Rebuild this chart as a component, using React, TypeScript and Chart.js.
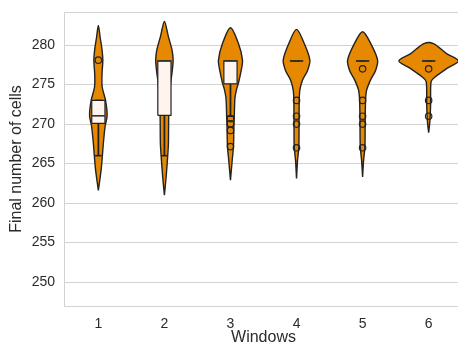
import { useEffect, useRef } from "react";
import { Chart, registerables } from "chart.js";

Chart.register(...registerables);

// ---------- data ----------
const windowLabels = ["1", "2", "3", "4", "5", "6"];
const yTickValues = [250, 255, 260, 265, 270, 275, 280];

// violin outlines: value levels (bottom -> top) and half-widths in category units
const violinLevels1 = [261.6, 264.2, 266.0, 267.6, 269.7, 271.1, 273.0, 274.7, 276.3, 278.1, 279.6, 281.0, 282.5];
const violinHalf1 = [0, 0.042, 0.061, 0.076, 0.102, 0.133, 0.109, 0.058, 0.055, 0.068, 0.053, 0.027, 0];
const violinLevels2 = [261.0, 263.3, 266.0, 267.6, 270.9, 273.0, 275.0, 276.5, 278.1, 279.4, 281.05, 283.0];
const violinHalf2 = [0, 0.026, 0.05, 0.061, 0.065, 0.076, 0.091, 0.115, 0.132, 0.115, 0.061, 0];
const violinLevels3 = [262.9, 265.4, 267.1, 269.5, 271.1, 273.3, 274.5, 275.2, 276.8, 278.1, 280.2, 282.2];
const violinHalf3 = [0, 0.026, 0.045, 0.052, 0.058, 0.068, 0.095, 0.121, 0.162, 0.182, 0.121, 0];
const violinLevels4 = [263.1, 265.4, 267.1, 270.0, 273.0, 274.3, 275.6, 276.8, 278.1, 280.2, 282.0];
const violinHalf4 = [0, 0.015, 0.035, 0.038, 0.041, 0.05, 0.091, 0.167, 0.202, 0.117, 0];
const violinLevels5 = [263.3, 265.4, 267.1, 270.0, 273.0, 274.3, 275.6, 276.8, 278.1, 280.2, 281.7];
const violinHalf5 = [0, 0.015, 0.035, 0.039, 0.045, 0.061, 0.121, 0.197, 0.227, 0.124, 0];
const violinLevels6 = [268.9, 270.5, 272.6, 275.4, 276.0, 277.05, 278.0, 278.9, 280.2];
const violinHalf6 = [0, 0.02, 0.03, 0.038, 0.102, 0.277, 0.45, 0.277, 0.071];

// box plot statistics per window
const q1Values = [270.1, 271.1, 275.1, 278, 278, 278];
const medianValues = [271.05, 278, 278, 278, 278, 278];
const q3Values = [273, 278, 278, 278, 278, 278];
const whiskerLowValues = [266, 266, 271, 278, 278, 278];
const whiskerHighValues = [273, 278, 278, 278, 278, 278];

// outliers per window
const fliers1 = [278.1];
const fliers2: number[] = [];
const fliers3 = [270.7, 270.05, 269.2, 267.15];
const fliers4 = [273, 271, 270, 267];
const fliers5 = [277, 273, 271, 270, 267];
const fliers6 = [277, 273, 271];

// ---------- style ----------
const ORANGE = "#e68800";
const OUTLINE = "#222222";
const BOX_FILL = "#fff4ee";
const GRID = "#d2d2d2";
const TEXT = "#2b2b2b";
const BOX_HALF = 0.1;
const CAP_HALF = 0.05;

const violinLevels = [violinLevels1, violinLevels2, violinLevels3, violinLevels4, violinLevels5, violinLevels6];
const violinHalf = [violinHalf1, violinHalf2, violinHalf3, violinHalf4, violinHalf5, violinHalf6];
const fliers = [fliers1, fliers2, fliers3, fliers4, fliers5, fliers6];

function violinPolygon(c: number, levels: number[], half: number[]) {
  const pts: { x: number; y: number }[] = [];
  const n = levels.length;
  for (let k = 0; k < n; k++) {
    pts.push({ x: c + half[k], y: levels[k] });
  }
  for (let k = n - 1; k >= 0; k--) {
    if (half[k] === 0 && k === n - 1) continue;
    pts.push({ x: c - half[k], y: levels[k] });
  }
  return pts;
}

const frameTop = {
  id: "frameTop",
  beforeDatasetsDraw(chart: any) {
    const { ctx, chartArea } = chart;
    ctx.save();
    ctx.strokeStyle = GRID;
    ctx.lineWidth = 1;
    ctx.beginPath();
    ctx.moveTo(chartArea.left, Math.round(chartArea.top) + 0.5);
    ctx.lineTo(chartArea.right, Math.round(chartArea.top) + 0.5);
    ctx.stroke();
    ctx.restore();
  },
};

export default function App() {
  const ref = useRef<HTMLCanvasElement | null>(null);

  useEffect(() => {
    if (!ref.current) return;
    Chart.defaults.font.family = '"Liberation Sans", Arial, sans-serif';
    const datasets: any[] = [];
    const line = (data: any[], color: string, width: number, order: number) => ({
      type: "line",
      data,
      borderColor: color,
      borderWidth: width,
      pointRadius: 0,
      fill: false,
      tension: 0,
      order,
    });

    windowLabels.forEach((_, i) => {
      const c = i;
      datasets.push({
        type: "line",
        data: violinPolygon(c, violinLevels[i], violinHalf[i]),
        borderColor: OUTLINE,
        borderWidth: 1.4,
        backgroundColor: ORANGE,
        fill: "shape",
        pointRadius: 0,
        tension: 0.3,
        order: 20,
      });
      // whiskers
      datasets.push(line([{ x: c, y: whiskerLowValues[i] }, { x: c, y: q1Values[i] }], OUTLINE, 1.8, 15));
      datasets.push(line([{ x: c, y: q3Values[i] }, { x: c, y: whiskerHighValues[i] }], OUTLINE, 1.8, 15));
      // caps
      datasets.push(line([{ x: c - CAP_HALF, y: whiskerLowValues[i] }, { x: c + CAP_HALF, y: whiskerLowValues[i] }], OUTLINE, 1.6, 15));
      datasets.push(line([{ x: c - CAP_HALF, y: whiskerHighValues[i] }, { x: c + CAP_HALF, y: whiskerHighValues[i] }], OUTLINE, 1.6, 15));
      // box
      datasets.push({
        type: "line",
        data: [
          { x: c - BOX_HALF, y: q1Values[i] },
          { x: c + BOX_HALF, y: q1Values[i] },
          { x: c + BOX_HALF, y: q3Values[i] },
          { x: c - BOX_HALF, y: q3Values[i] },
          { x: c - BOX_HALF, y: q1Values[i] },
        ],
        borderColor: OUTLINE,
        borderWidth: 1.2,
        backgroundColor: BOX_FILL,
        fill: "shape",
        pointRadius: 0,
        tension: 0,
        order: 10,
      });
      // median
      datasets.push(line([{ x: c - BOX_HALF, y: medianValues[i] }, { x: c + BOX_HALF, y: medianValues[i] }], "#333333", 1.6, 5));
      // fliers
      datasets.push({
        type: "scatter",
        data: fliers[i].map((v) => ({ x: c, y: v })),
        pointRadius: 3.2,
        pointBorderWidth: 1.2,
        pointBorderColor: OUTLINE,
        pointBackgroundColor: "rgba(0,0,0,0)",
        order: 1,
      });
    });

    const chart = new Chart(ref.current, {
      type: "scatter",
      data: { datasets },
      options: {
        animation: false,
        responsive: false,
        devicePixelRatio: 1,
        layout: { padding: { left: 0, top: 12, right: 7, bottom: 0 } },
        plugins: { legend: { display: false }, tooltip: { enabled: false } },
        scales: {
          x: {
            type: "linear",
            min: -0.52,
            max: 5.52,
            afterBuildTicks: (s: any) => {
              s.ticks = windowLabels.map((_, i) => ({ value: i }));
            },
            afterFit: (s: any) => {
              s.height = 43;
              s.paddingLeft = 0;
              s.paddingRight = 0;
            },
            ticks: {
              callback: (v: any) => windowLabels[Math.round(Number(v))],
              color: TEXT,
              font: { size: 14 },
              padding: 10,
              maxRotation: 0,
              autoSkip: false,
            },
            grid: { display: false, drawTicks: false },
            border: { color: GRID, width: 1 },
            title: { display: true, text: "Windows", color: TEXT, font: { size: 16 }, padding: { top: 0, bottom: 1.5 } },
          },
          y: {
            type: "linear",
            min: 246.96,
            max: 284.2,
            afterBuildTicks: (s: any) => {
              s.ticks = yTickValues.map((v) => ({ value: v }));
            },
            afterFit: (s: any) => {
              s.width = 64;
              s.paddingTop = 0;
              s.paddingBottom = 0;
            },
            ticks: { color: TEXT, font: { size: 14 }, padding: 9 },
            grid: { color: GRID, lineWidth: 1, drawTicks: false },
            border: { color: GRID, width: 1 },
            title: { display: true, text: "Final number of cells", color: TEXT, font: { size: 16 }, padding: { top: 7, bottom: 0 } },
          },
        },
      } as any,
      plugins: [frameTop],
    });
    return () => chart.destroy();
  }, []);

  return (
    <div style={{ position: "fixed", left: 0, top: 0, width: 458, height: 349, overflow: "hidden", background: "#fff" }}>
      <canvas ref={ref} width={470} height={349} style={{ display: "block" }} />
    </div>
  );
}
